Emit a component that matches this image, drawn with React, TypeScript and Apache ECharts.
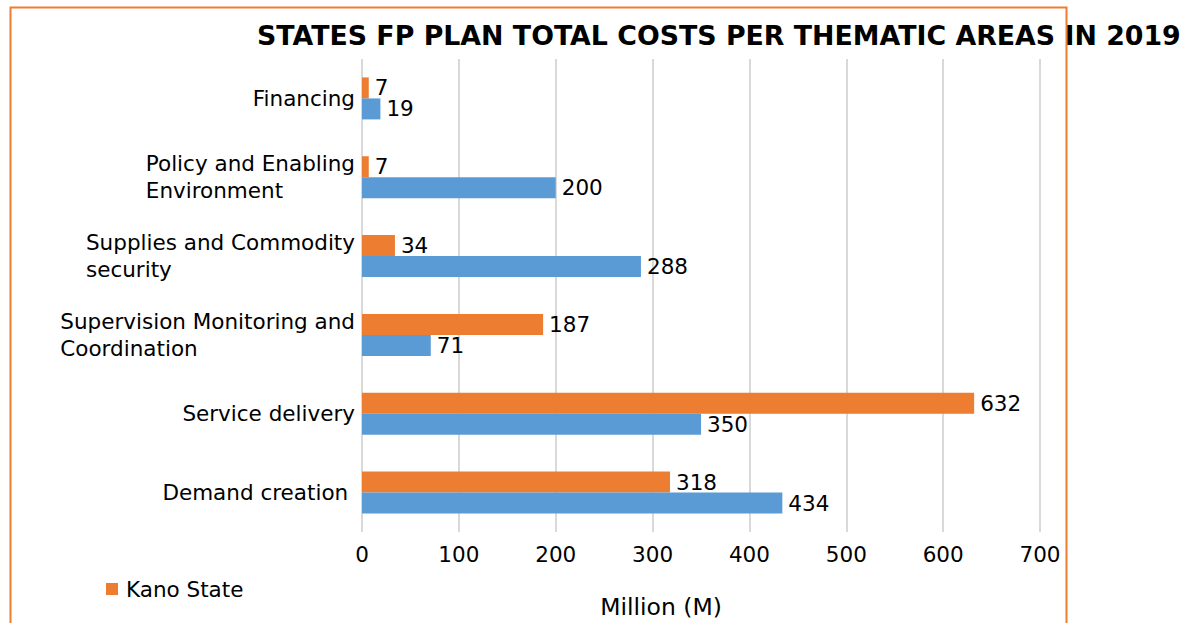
import React, { useEffect, useRef } from "react";
import * as echarts from "echarts";

const categories = [
  "Financing",
  "Policy and Enabling\nEnvironment",
  "Supplies and Commodity\nsecurity",
  "Supervision Monitoring and\nCoordination",
  "Service delivery",
  "Demand creation ",
];
const otherValues = [19, 200, 288, 71, 350, 434];
const kanoValues = [7, 7, 34, 187, 632, 318];
const xTicks = [0, 100, 200, 300, 400, 500, 600, 700];

const FONT = "DejaVu Sans";
const FS = 21.5;

export default function App() {
  const ref = useRef<HTMLDivElement>(null);
  useEffect(() => {
    document.body.style.margin = "0";
    const chart = echarts.init(ref.current!, null, { renderer: "svg" });
    const labelStyle = {
      show: true,
      position: "right" as const,
      distance: 6,
      fontFamily: FONT,
      fontSize: FS,
      color: "#000",
    };
    chart.setOption({
      animation: false,
      textStyle: { fontFamily: FONT },
      title: {
        text: "STATES FP PLAN TOTAL COSTS PER THEMATIC AREAS IN 2019",
        left: 252,
        top: 17,
        textStyle: { fontFamily: FONT, fontSize: 26.8, fontWeight: "bold", color: "#000" },
      },
      legend: {
        data: ["Kano State"],
        left: 106,
        top: 578,
        padding: 0,
        itemWidth: 12,
        itemHeight: 12,
        itemGap: 8,
        icon: "rect",
        textStyle: { fontFamily: FONT, fontSize: FS, color: "#000", padding: [0, 0, 0, 3] },
      },
      grid: { left: 362, right: 149, top: 59, bottom: 91, containLabel: false },
      xAxis: {
        type: "value",
        min: xTicks[0],
        max: xTicks[xTicks.length - 1],
        interval: 100,
        axisLine: { show: false },
        axisTick: { show: false },
        splitLine: { show: true, lineStyle: { color: "#d9d9d9", width: 2 } },
        axisLabel: { fontFamily: FONT, fontSize: FS, color: "#000", margin: 11 },
      },
      yAxis: {
        type: "category",
        inverse: true,
        data: categories,
        axisLine: { show: false },
        axisTick: { show: false },
        axisLabel: {
          margin: 7,
          fontFamily: FONT,
          fontSize: FS,
          color: "#000",
          lineHeight: 27,
          formatter: (v: string) =>
            v
              .split("\n")
              .map((l) => `{l|${l}}`)
              .join("\n"),
          rich: { l: { align: "left", fontFamily: FONT, fontSize: FS, lineHeight: 27, color: "#000" } },
        },
      },
      series: [
        {
          name: "Kano State",
          type: "bar",
          data: kanoValues,
          barWidth: 21,
          barGap: "0%",
          itemStyle: { color: "#ED7D31" },
          label: labelStyle,
        },
        {
          name: "Other State",
          type: "bar",
          data: otherValues,
          barWidth: 21,
          barGap: "0%",
          itemStyle: { color: "#5B9BD5" },
          label: labelStyle,
        },
      ],
      graphic: [
        {
          type: "rect",
          shape: { x: 10.5, y: 7.5, width: 1056, height: 640 },
          style: { fill: "none", stroke: "#ED7D31", lineWidth: 2 },
          z: 100,
        },
        {
          type: "text",
          x: 661,
          y: 607,
          style: {
            text: "Million (M)",
            fontFamily: FONT,
            fontSize: 23.5,
            fill: "#000",
            align: "center",
            verticalAlign: "middle",
          },
        },
      ],
    });
    return () => chart.dispose();
  }, []);
  return <div ref={ref} style={{ width: 1189, height: 623 }} />;
}
